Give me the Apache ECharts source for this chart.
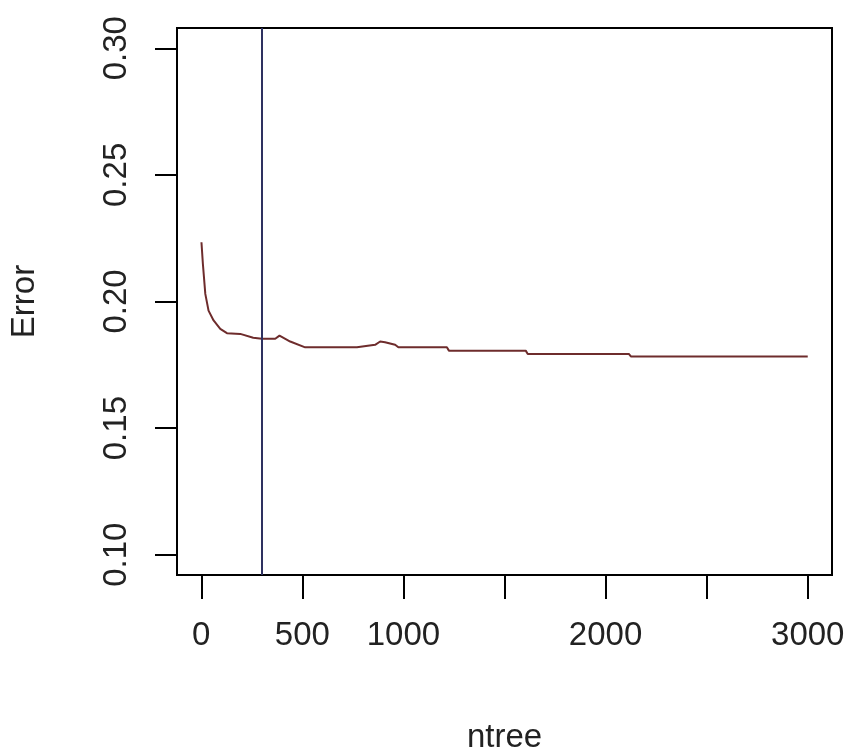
<!DOCTYPE html>
<html>
<head>
<meta charset="utf-8">
<script src="https://cdn.jsdelivr.net/npm/echarts@6/dist/echarts.min.js"></script>
<style>
  html, body { margin: 0; padding: 0; background: #fff; }
  #chart { width: 845px; height: 755px; }
</style>
</head>
<body>
<div id="chart"></div>
<script>
// 随机森林 OOB 误差随 ntree 的变化
const ntree = [1, 8, 20, 36, 61, 94, 127, 193, 257, 300, 366, 387, 440, 514, 770, 776, 860, 885, 909, 959, 975, 1215, 1225, 1605, 1615, 2115, 2125, 3000]
const errorRate = [0.2234, 0.2149, 0.2030, 0.1964, 0.1925, 0.1892, 0.1875, 0.1872, 0.1857, 0.1853, 0.1853, 0.1865, 0.1842, 0.1819, 0.1819, 0.1826, 0.1829, 0.1842, 0.1839, 0.1829, 0.1819, 0.1819, 0.1806, 0.1806, 0.1793, 0.1793, 0.1783, 0.1783]
const xTicks = [0, 500, 1000, 1500, 2000, 2500, 3000]
const xLabels = [0, 500, 1000, 2000, 3000]
const yTicks = [0.10, 0.15, 0.20, 0.25, 0.30]
const bestNtree = 300

const FONT = '"Liberation Sans", Arial, sans-serif'
const FONT_SIZE = 33

const chartDom = document.getElementById('chart')
const myChart = echarts.init(chartDom)

const option = {
  animation: false,
  backgroundColor: '#fff',
  grid: {
    left: 177,
    right: 13,
    top: 28,
    bottom: 180,
    containLabel: false,
    outerBoundsMode: 'none',
    show: true,
    borderColor: '#000',
    borderWidth: 2,
    backgroundColor: 'transparent'
  },
  xAxis: {
    type: 'value',
    min: -120,
    max: 3120,
    name: 'ntree',
    nameLocation: 'middle',
    nameGap: 146,
    nameTextStyle: { color: '#222', fontFamily: FONT, fontSize: FONT_SIZE },
    axisLine: { show: false, onZero: false },
    splitLine: { show: false },
    axisTick: {
      show: true,
      inside: false,
      length: 24,
      customValues: xTicks,
      lineStyle: { color: '#000', width: 2 }
    },
    axisLabel: {
      customValues: xLabels,
      margin: 44,
      color: '#222',
      fontFamily: FONT,
      fontSize: FONT_SIZE,
      formatter: function (v) {
        return String(v)
      }
    }
  },
  yAxis: {
    type: 'value',
    min: 0.092,
    max: 0.308,
    name: 'Error',
    nameLocation: 'middle',
    nameGap: 136,
    nameRotate: 90,
    nameTextStyle: { color: '#222', fontFamily: FONT, fontSize: FONT_SIZE },
    axisLine: { show: false, onZero: false },
    splitLine: { show: false },
    axisTick: {
      show: true,
      inside: false,
      length: 22,
      customValues: yTicks,
      lineStyle: { color: '#000', width: 2 }
    },
    axisLabel: {
      customValues: yTicks,
      rotate: 90,
      margin: 44,
      color: '#222',
      fontFamily: FONT,
      fontSize: FONT_SIZE,
      formatter: function (v) {
        return v.toFixed(2)
      }
    }
  },
  series: [
    {
      name: 'OOB',
      type: 'line',
      data: ntree.map((n, i) => [n, errorRate[i]]),
      showSymbol: false,
      smooth: false,
      lineStyle: { color: '#6e2c2c', width: 2 },
      markLine: {
        silent: true,
        symbol: ['none', 'none'],
        label: { show: false },
        lineStyle: { color: '#2e3160', width: 2, type: 'solid' },
        data: [{ xAxis: bestNtree }]
      }
    }
  ]
}
option && myChart.setOption(option)
</script>
</body>
</html>
